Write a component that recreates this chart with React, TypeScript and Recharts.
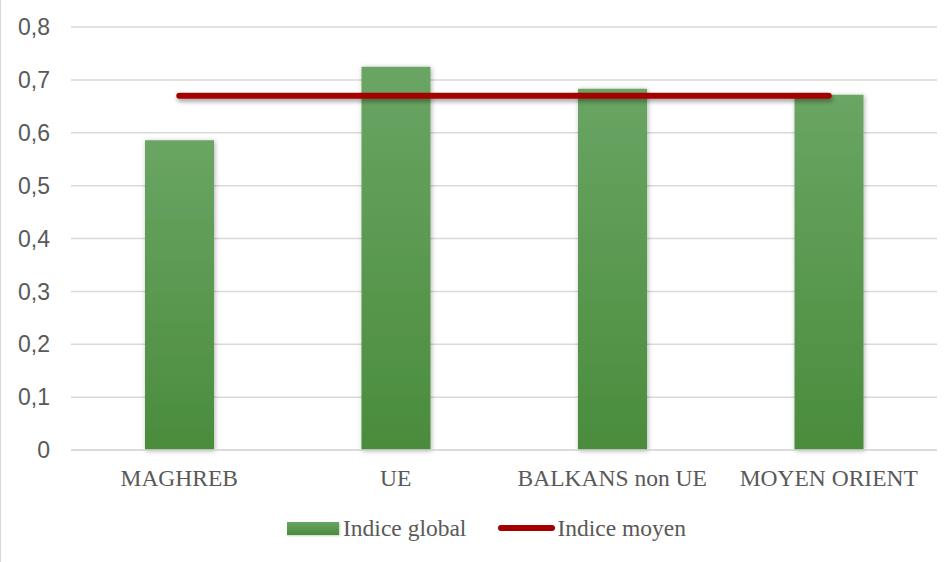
import React from 'react';
import {
  ComposedChart,
  Bar,
  Line,
  XAxis,
  YAxis,
  CartesianGrid,
  Legend
} from 'recharts';

// categories and series
const regions = ['MAGHREB', 'UE', 'BALKANS non UE', 'MOYEN ORIENT'];
const indiceGlobal = [0.586, 0.725, 0.683, 0.672];
const indiceMoyen = [0.67, 0.67, 0.67, 0.67];
const yTicks = [0, 0.1, 0.2, 0.3, 0.4, 0.5, 0.6, 0.7, 0.8];

const data = regions.map((name, i) => ({
  name,
  global: indiceGlobal[i],
  moyen: indiceMoyen[i]
}));

const TEXT = '#595959';
const GRID = '#d9d9d9';
const RED = '#a40000';
const SERIF = '"Liberation Serif", "Times New Roman", serif';
const SANS = '"Liberation Sans", Arial, sans-serif';

const fmt = (v: number) => String(v).replace('.', ',');

const renderLegend = () => (
  <div
    style={{
      height: 52,
      paddingTop: 8,
      paddingLeft: 36,
      boxSizing: 'border-box',
      display: 'flex',
      justifyContent: 'center',
      alignItems: 'flex-start',
      fontFamily: SERIF,
      fontSize: 23.5,
      color: TEXT,
      lineHeight: '20px'
    }}
  >
    <div style={{ display: 'flex', alignItems: 'center', marginRight: 32 }}>
      <div
        style={{
          width: 52,
          height: 13,
          background: 'linear-gradient(#6aa564, #4a8c3c)',
          boxShadow: '1px 1px 2px rgba(0,0,0,0.2)',
          marginRight: 4
        }}
      />
      <span>Indice global</span>
    </div>
    <div style={{ display: 'flex', alignItems: 'center' }}>
      <div
        style={{
          width: 57,
          height: 6,
          borderRadius: 3,
          background: RED,
          marginRight: 2
        }}
      />
      <span>Indice moyen</span>
    </div>
  </div>
);

const App: React.FC = () => {
  return (
    <div style={{ position: 'absolute', left: 0, top: 0, width: 951, height: 562, background: '#fff' }}>
      <div style={{ position: 'absolute', left: 0, top: 0, width: 1, height: 562, background: GRID }} />
      <ComposedChart
        width={951}
        height={562}
        data={data}
        margin={{ top: 27, right: 14, bottom: 0, left: 0 }}
        barCategoryGap={0}
      >
        <defs>
          <linearGradient id="barGrad" x1="0" y1="0" x2="0" y2="1">
            <stop offset="0%" stopColor="#6aa564" />
            <stop offset="100%" stopColor="#4a8c3c" />
          </linearGradient>
          <filter id="barShadow" x="-20%" y="-5%" width="140%" height="110%">
            <feDropShadow dx="1" dy="1" stdDeviation="2.5" floodColor="#000" floodOpacity="0.3" />
          </filter>
          <filter id="lineShadow" filterUnits="userSpaceOnUse" x="0" y="0" width="951" height="562">
            <feDropShadow dx="1" dy="3" stdDeviation="2" floodColor="#000" floodOpacity="0.35" />
          </filter>
        </defs>
        <CartesianGrid vertical={false} stroke={GRID} strokeWidth={1.5} />
        <XAxis
          dataKey="name"
          height={60}
          tickLine={false}
          tickSize={0}
          tickMargin={19}
          axisLine={{ stroke: GRID, strokeWidth: 1.5 }}
          tick={{ fill: TEXT, fontFamily: SERIF, fontSize: 23.5 }}
          interval={0}
        />
        <YAxis
          width={71}
          domain={[0, 0.8]}
          ticks={yTicks}
          tickFormatter={fmt}
          axisLine={false}
          tickLine={false}
          tickSize={0}
          tickMargin={21}
          tick={{ fill: TEXT, fontFamily: SANS, fontSize: 23 }}
        />
        <Legend verticalAlign="bottom" height={52} content={renderLegend} />
        <Bar
          dataKey="global"
          name="Indice global"
          barSize={69}
          fill="url(#barGrad)"
          filter="url(#barShadow)"
          isAnimationActive={false}
        />
        <Line
          dataKey="moyen"
          name="Indice moyen"
          type="linear"
          stroke={RED}
          strokeWidth={6}
          strokeLinecap="round"
          dot={false}
          activeDot={false}
          filter="url(#lineShadow)"
          isAnimationActive={false}
        />
      </ComposedChart>
    </div>
  );
};

export default App;
